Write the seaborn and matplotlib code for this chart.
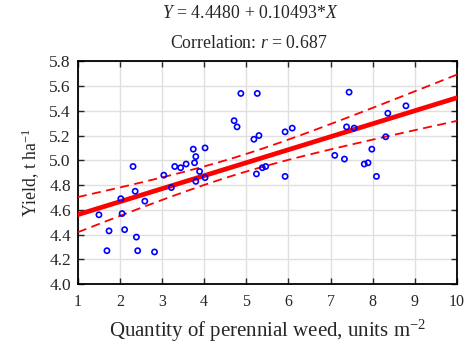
import numpy as np
import pandas as pd
import seaborn as sns
import matplotlib
matplotlib.use("Agg")
import matplotlib.pyplot as plt

weed = [1.50, 1.74, 1.69, 2.02, 2.05, 2.11, 2.31, 2.36, 2.39, 2.42, 2.59, 2.82,
        3.04, 3.22, 3.30, 3.44, 3.57, 3.74, 3.77, 3.80, 3.80, 3.89, 4.02, 4.02,
        4.71, 4.78, 4.87, 5.18, 5.26, 5.30, 5.24, 5.38, 5.46,
        5.92, 6.09, 5.92, 7.10, 7.33, 7.44, 7.38, 7.56, 7.80, 7.89, 7.98, 8.09,
        8.31, 8.36, 8.79]
yield_ = [4.56, 4.43, 4.27, 4.69, 4.57, 4.44, 4.95, 4.75, 4.38, 4.27, 4.67, 4.26,
          4.88, 4.78, 4.95, 4.94, 4.97, 5.09, 4.98, 5.03, 4.83, 4.91, 5.10, 4.86,
          5.32, 5.27, 5.54, 5.17, 5.54, 5.20, 4.89, 4.94, 4.95,
          5.23, 5.26, 4.87, 5.04, 5.01, 5.55, 5.27, 5.26, 4.97, 4.98, 5.09, 4.87,
          5.19, 5.38, 5.44]
xticks = [1, 2, 3, 4, 5, 6, 7, 8, 9, 10]
yticks = [4.0, 4.2, 4.4, 4.6, 4.8, 5.0, 5.2, 5.4, 5.6, 5.8]
title1 = r"$Y$ = 4.4480 + 0.10493*$X$"
title2 = r"Correlation: $r$ = 0.687"

df = pd.DataFrame({"x": weed, "y": yield_})

sns.set_style("ticks")
plt.rcParams["font.family"] = ["Liberation Serif", "DejaVu Serif"]
plt.rcParams["mathtext.fontset"] = "custom"
plt.rcParams["mathtext.rm"] = "Liberation Serif"
plt.rcParams["mathtext.it"] = "Liberation Serif:italic"

fig = plt.figure(figsize=(4.72, 3.44), dpi=100)
ax = fig.add_axes([0.165, 0.174, 0.803, 0.648])

# fit and 95% confidence band computed from data
x = np.asarray(weed); y = np.asarray(yield_)
n = len(x)
b, a = np.polyfit(x, y, 1)
res = y - (a + b * x)
s = np.sqrt(np.sum(res**2) / (n - 2))
xs = np.linspace(1, 10, 200)
sxx = np.sum((x - x.mean())**2)
half = 2.01 * s * np.sqrt(1 / n + (xs - x.mean())**2 / sxx)
fit = a + b * xs
band = pd.DataFrame({"xs": xs, "lo": fit - half, "hi": fit + half, "fit": fit})

sns.lineplot(data=band, x="xs", y="fit", color="#ff0000", lw=3.4, ax=ax, zorder=3)
sns.lineplot(data=band, x="xs", y="lo", color="#ff0000", lw=1.3, ax=ax, zorder=3,
             linestyle=(0, (5, 3)))
sns.lineplot(data=band, x="xs", y="hi", color="#ff0000", lw=1.3, ax=ax, zorder=3,
             linestyle=(0, (5, 3)))
sns.scatterplot(data=df, x="x", y="y", marker="o", facecolor="none",
                edgecolor="#0000ff", linewidth=1.2, s=14, ax=ax, zorder=4)

ax.set_xlim(1, 10)
ax.set_ylim(4.0, 5.8)
ax.set_xticks(xticks)
ax.set_xticklabels([str(t) for t in xticks])
ax.set_yticks(yticks)
ax.set_yticklabels([f"{t:.1f}" for t in yticks])
ax.grid(True, color="#e0e0e0", lw=1.0)
ax.set_axisbelow(True)
ax.tick_params(direction="in", length=4, width=1,
               top=True, right=True, pad=5)
ax.tick_params(axis="x", labelsize=11.5, pad=7)
ax.tick_params(axis="y", labelsize=12.5)
for sp in ax.spines.values():
    sp.set_linewidth(1.3)
    sp.set_color("black")
ax.set_xlabel(r"Quantity of perennial weed, units m$^{-2}$", fontsize=15, labelpad=6)
ax.set_ylabel(r"Yield, t ha$^{-1}$", fontsize=12.8, labelpad=5)

fig.text(0.53, 0.96, title1, ha="center", va="center", fontsize=12.8)
fig.text(0.527, 0.875, title2, ha="center", va="center", fontsize=12.8)

fig.savefig("out.png", dpi=100)
